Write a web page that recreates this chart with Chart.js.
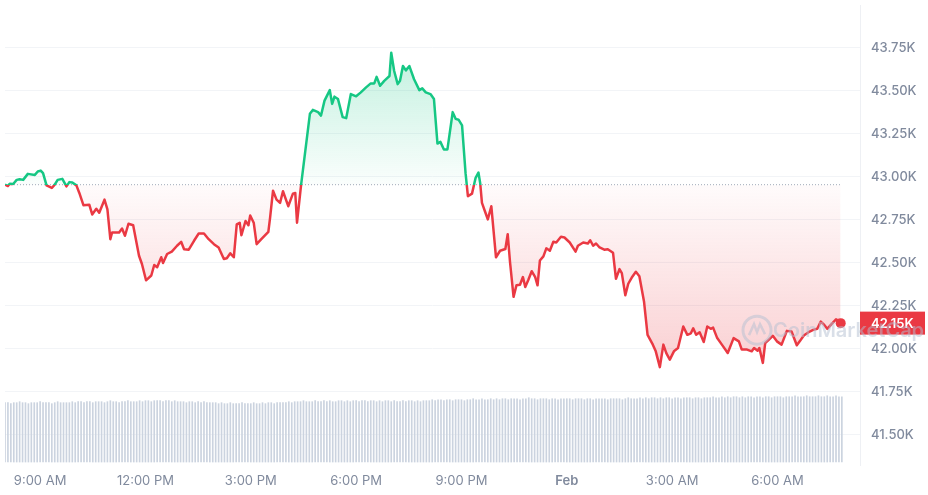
<!DOCTYPE html>
<html>
<head>
<meta charset="utf-8">
<script src="https://cdn.jsdelivr.net/npm/chart.js@4.4.0/dist/chart.umd.min.js"></script>
<style>
  html, body { margin: 0; padding: 0; background: #fff; }
  #wrap { width: 928px; height: 495px; }
</style>
</head>
<body>
<div id="wrap"><canvas id="priceChart" width="928" height="495"></canvas></div>
<script>
// Time in minutes since 8:00 AM (Jan 31), price in USD
const priceTimes = [
    0, 5, 8, 14, 20, 25, 31, 39, 51, 56, 61, 65, 71, 80, 85, 90, 98, 105, 110, 115,
    122, 127, 134, 144, 149, 156, 161, 170, 175, 180, 183, 195, 200, 205, 211, 219, 229, 234, 241, 250,
    255, 260, 267, 270, 277, 285, 294, 301, 306, 314, 323, 331, 340, 348, 357, 365, 374, 379, 385, 391,
    396, 401, 404, 411, 416, 419, 425, 430, 438, 450, 453, 458, 464, 470, 475, 484, 492, 496, 499, 506,
    521, 526, 535, 540, 546, 555, 559, 563, 569, 577, 583, 591, 600, 608, 617, 625, 631, 635, 641, 648,
    657, 660, 665, 671, 675, 680, 685, 691, 699, 708, 713, 719, 727, 733, 739, 744, 750, 756, 765, 770,
    775, 781, 787, 791, 798, 804, 809, 812, 815, 821, 825, 831, 839, 846, 855, 859, 863, 869, 874, 880,
    885, 889, 894, 900, 906, 910, 914, 920, 925, 931, 937, 942, 950, 956, 965, 975, 979, 988, 996, 1000,
    1005, 1010, 1016, 1024, 1030, 1039, 1044, 1050, 1054, 1060, 1065, 1071, 1078, 1084, 1092, 1098, 1107, 1112, 1119, 1125,
    1130, 1136, 1143, 1150, 1159, 1166, 1172, 1176, 1181, 1187, 1194, 1200, 1206, 1210, 1217, 1225, 1235, 1245, 1254, 1259,
    1268, 1276, 1280, 1286, 1289, 1295, 1299, 1305, 1312, 1319, 1327, 1336, 1344, 1353, 1358, 1365, 1375, 1381, 1388, 1394,
    1399, 1405, 1412, 1420, 1425, 1428
];
const prices = [
    42955, 42947, 42960, 42959, 42983, 42987, 42983, 43018, 43012, 43032, 43037, 43022, 42951, 42936, 42955, 42983, 42989, 42945, 42970, 42968,
    42951, 42907, 42836, 42839, 42782, 42815, 42792, 42868, 42811, 42638, 42677, 42677, 42700, 42658, 42728, 42719, 42542, 42494, 42399, 42427,
    42488, 42475, 42533, 42500, 42552, 42566, 42600, 42623, 42580, 42577, 42629, 42671, 42671, 42638, 42609, 42590, 42523, 42527, 42556, 42533,
    42724, 42734, 42661, 42744, 42719, 42776, 42734, 42609, 42638, 42681, 42763, 42920, 42868, 42849, 42917, 42830, 42903, 42907, 42734, 42955,
    43367, 43390, 43377, 43357, 43444, 43505, 43425, 43467, 43453, 43348, 43342, 43482, 43469, 43492, 43521, 43544, 43544, 43582, 43530, 43559,
    43587, 43722, 43616, 43540, 43559, 43645, 43620, 43645, 43568, 43505, 43515, 43492, 43482, 43453, 43194, 43204, 43160, 43160, 43377, 43338,
    43333, 43300, 43022, 42888, 42903, 42993, 43026, 42964, 42849, 42792, 42753, 42830, 42533, 42571, 42581, 42667, 42504, 42303, 42370, 42373,
    42418, 42360, 42399, 42452, 42418, 42370, 42514, 42538, 42585, 42571, 42623, 42619, 42652, 42648, 42619, 42566, 42600, 42619, 42613, 42632,
    42600, 42613, 42590, 42577, 42580, 42559, 42408, 42464, 42441, 42312, 42379, 42415, 42449, 42423, 42274, 42082, 42025, 41986, 41894, 42025,
    41976, 41938, 41986, 42005, 42130, 42082, 42091, 42120, 42082, 42097, 42040, 42130, 42117, 42124, 42063, 42025, 41976, 42063, 42044, 41996,
    41996, 41986, 42005, 41990, 42005, 41919, 42034, 42053, 42076, 42044, 42025, 42105, 42101, 42021, 42044, 42078, 42101, 42111, 42117, 42159,
    42143, 42117, 42143, 42172, 42163, 42150
];
// 24h open price, drawn as the dotted reference line
const openPrice = 42955;

// 5 minute volume bars, first bar at minute 0
const volumeStart = 0;
const volumeStep = 5;
const volumes = [
    60, 60, 59, 60, 60, 61, 60, 60, 59, 60, 60, 60, 61, 60, 60, 60, 59, 60, 61, 60, 60, 60, 60, 61,
    60, 61, 61, 60, 61, 61, 60, 61, 61, 61, 60, 61, 62, 61, 61, 60, 61, 61, 62, 61, 61, 61, 62, 61,
    62, 62, 61, 62, 62, 62, 61, 62, 62, 61, 62, 61, 61, 61, 60, 61, 61, 60, 61, 60, 61, 60, 60, 60,
    60, 59, 60, 59, 59, 60, 59, 59, 59, 60, 59, 59, 59, 60, 59, 59, 60, 59, 60, 60, 59, 60, 60, 60,
    60, 61, 60, 61, 61, 61, 62, 61, 61, 61, 62, 61, 61, 62, 61, 62, 61, 61, 62, 62, 61, 62, 61, 62,
    62, 61, 62, 62, 61, 62, 62, 61, 62, 61, 62, 62, 61, 62, 61, 61, 62, 61, 62, 62, 61, 62, 61, 62,
    62, 62, 63, 62, 63, 63, 62, 63, 63, 62, 63, 63, 63, 62, 63, 63, 64, 63, 63, 64, 63, 63, 64, 63,
    64, 63, 64, 64, 63, 64, 64, 64, 63, 64, 64, 65, 64, 64, 63, 64, 64, 64, 63, 64, 64, 63, 64, 64,
    64, 64, 63, 64, 64, 64, 63, 64, 64, 63, 64, 64, 64, 64, 63, 64, 64, 64, 64, 63, 64, 65, 64, 64,
    64, 65, 64, 65, 64, 65, 65, 64, 65, 64, 65, 65, 64, 65, 65, 64, 65, 65, 65, 64, 65, 65, 64, 65,
    65, 65, 66, 65, 65, 66, 65, 66, 65, 66, 66, 65, 66, 65, 66, 66, 65, 66, 66, 65, 66, 66, 65, 66,
    66, 66, 65, 66, 66, 66, 67, 66, 66, 66, 67, 66, 66, 66, 67, 66, 66, 67, 66, 66, 67, 66, 66
];

const timeTicks = [60, 240, 420, 600, 780, 960, 1140, 1320];
const timeLabels = ['9:00 AM', '12:00 PM', '3:00 PM', '6:00 PM', '9:00 PM', 'Feb', '3:00 AM', '6:00 AM'];
const priceTicks = [41500, 41750, 42000, 42250, 42500, 42750, 43000, 43250, 43500, 43750];

const GREEN = '#16c784';
const RED = '#ea3943';
const LABEL_GREY = '#808a9d';
const FONT = 'Inter, "Noto Sans", sans-serif';

function fmtK(v) {
    return (v / 1000).toFixed(2) + 'K';
}

// Green above the open price, red below it
function lineColor(chart) {
    const {ctx, chartArea, scales} = chart;
    if (!chartArea) return RED;
    const yb = scales.y.getPixelForValue(openPrice);
    const stop = Math.min(Math.max((yb - chartArea.top) / (chartArea.bottom - chartArea.top), 0), 1);
    const g = ctx.createLinearGradient(0, chartArea.top, 0, chartArea.bottom);
    g.addColorStop(0, GREEN);
    g.addColorStop(stop, GREEN);
    g.addColorStop(stop, RED);
    g.addColorStop(1, RED);
    return g;
}

function areaFill(chart) {
    const {ctx, chartArea, scales} = chart;
    if (!chartArea) return false;
    const yb = scales.y.getPixelForValue(openPrice);
    const yHi = scales.y.getPixelForValue(Math.max(...prices));
    const yLo = scales.y.getPixelForValue(Math.min(...prices));
    const up = ctx.createLinearGradient(0, yHi, 0, yb);
    up.addColorStop(0, 'rgba(22, 199, 132, 0.26)');
    up.addColorStop(1, 'rgba(22, 199, 132, 0.02)');
    const down = ctx.createLinearGradient(0, yb, 0, yLo);
    down.addColorStop(0, 'rgba(234, 57, 67, 0.02)');
    down.addColorStop(1, 'rgba(234, 57, 67, 0.24)');
    return { target: { value: openPrice }, above: up, below: down };
}

// Red price tag on the axis plus the faint watermark
const overlayPlugin = {
    id: 'overlay',
    afterDraw(chart) {
        const {ctx, chartArea, scales} = chart;
        const last = prices[prices.length - 1];
        const y = scales.y.getPixelForValue(last);
        ctx.save();
        ctx.fillStyle = RED;
        ctx.fillRect(chartArea.right, y - 11.5, 65, 23);
        ctx.fillStyle = '#ffffff';
        ctx.font = '600 13px ' + FONT;
        ctx.textBaseline = 'middle';
        ctx.textAlign = 'left';
        ctx.fillText(fmtK(last), chartArea.right + 11, y + 1);

        // watermark
        const cx = chartArea.right - 103, cy = y + 7;
        ctx.globalAlpha = 0.5;
        ctx.strokeStyle = '#b4bfd2';
        ctx.lineWidth = 3;
        ctx.beginPath();
        ctx.arc(cx, cy, 14, 0, Math.PI * 2);
        ctx.stroke();
        ctx.lineWidth = 2.5;
        ctx.beginPath();
        ctx.moveTo(cx - 8, cy + 5);
        ctx.lineTo(cx - 3, cy - 6);
        ctx.lineTo(cx, cy + 2);
        ctx.lineTo(cx + 3, cy - 6);
        ctx.lineTo(cx + 8, cy + 4);
        ctx.stroke();
        ctx.fillStyle = '#b4bfd2';
        ctx.font = '600 20px ' + FONT;
        ctx.fillText('CoinMarketCap', cx + 16, cy + 1);
        ctx.restore();
    }
};

const ctx = document.getElementById('priceChart').getContext('2d');
new Chart(ctx, {
    type: 'line',
    data: {
        datasets: [
            {
                label: 'Price',
                data: priceTimes.map((t, i) => ({ x: t, y: prices[i] })),
                borderColor: c => lineColor(c.chart),
                borderWidth: 2.5,
                borderJoinStyle: 'round',
                tension: 0,
                pointRadius: c => (c.dataIndex === prices.length - 1 ? 5 : 0),
                pointBackgroundColor: RED,
                pointBorderWidth: 0,
                fill: c => areaFill(c.chart),
                yAxisID: 'y',
                order: 0
            },
            {
                label: 'Open',
                data: [
                    { x: priceTimes[0], y: openPrice },
                    { x: priceTimes[priceTimes.length - 1], y: openPrice }
                ],
                borderColor: '#a1a9b8',
                borderWidth: 1,
                borderDash: [1, 2],
                pointRadius: 0,
                fill: false,
                yAxisID: 'y',
                order: 1
            },
            {
                type: 'bar',
                label: 'Volume',
                data: volumes.map((v, i) => ({ x: volumeStart + i * volumeStep, y: v })),
                backgroundColor: '#cbd3df',
                barThickness: 1,
                yAxisID: 'vol',
                order: 2
            }
        ]
    },
    options: {
        responsive: false,
        animation: false,
        events: [],
        layout: { padding: 0 },
        plugins: {
            legend: { display: false },
            tooltip: { enabled: false }
        },
        scales: {
            x: {
                type: 'linear',
                min: 0,
                max: 1461,
                offset: false,
                afterBuildTicks: s => { s.ticks = timeTicks.map(v => ({ value: v })); },
                afterFit: s => { s.height = 30; s.paddingLeft = 0; s.paddingRight = 0; },
                grid: { display: false, drawTicks: false },
                border: { display: false },
                ticks: {
                    autoSkip: false,
                    maxRotation: 0,
                    padding: 8,
                    color: LABEL_GREY,
                    font: c => ({ family: FONT, size: 13, weight: timeLabels[c.index] === 'Feb' ? '600' : '400' }),
                    callback: (v, i) => timeLabels[i]
                }
            },
            y: {
                type: 'linear',
                position: 'right',
                min: 41325,
                max: 44000,
                afterBuildTicks: s => { s.ticks = priceTicks.map(v => ({ value: v })); },
                afterFit: s => { s.width = 68; s.paddingTop = 0; s.paddingBottom = 0; },
                grid: { color: '#f2f4f7', drawTicks: false },
                border: { display: true, color: '#eef0f4' },
                ticks: {
                    padding: 11,
                    color: LABEL_GREY,
                    font: { family: FONT, size: 13, weight: '500' },
                    callback: v => fmtK(v)
                }
            },
            vol: {
                type: 'linear',
                display: false,
                min: -3,
                max: 462
            }
        }
    },
    plugins: [overlayPlugin]
});
</script>
</body>
</html>
